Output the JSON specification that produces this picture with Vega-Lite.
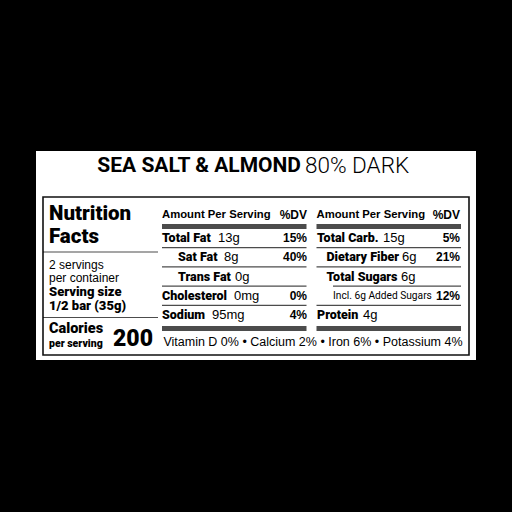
{
  "$schema": "https://vega.github.io/schema/vega-lite/v6.json",
  "width": 440,
  "height": 209,
  "autosize": {"type": "none"},
  "padding": {"left": 36, "top": 151, "right": 36, "bottom": 152},
  "background": "#000000",
  "config": {
    "view": {"fill": "#ffffff", "stroke": null},
    "text": {"font": "Liberation Sans", "color": "#000000"}
  },
  "datasets": {
    "label": [{"panel": "label", "product": "SEA SALT & ALMOND", "cacao": "80% DARK"}],
    "intro": [
      {"panel": "intro", "item": "Nutrition Facts", "text": "Nutrition\nFacts"},
      {"panel": "intro", "item": "servings", "text": "2 servings\nper container"},
      {"panel": "intro", "item": "serving size", "text": "Serving size\n1/2 bar (35g)"},
      {"panel": "intro", "item": "calories", "text": "Calories", "unit": "per serving", "calories": 200}
    ],
    "nutrients": [
      {"panel": "fat", "line": 1, "level": 0, "nutrient": "Total Fat", "amount": "13g", "dv": "15%"},
      {"panel": "fat", "line": 2, "level": 1, "nutrient": "Sat Fat", "amount": "8g", "dv": "40%"},
      {"panel": "fat", "line": 3, "level": 1, "nutrient": "Trans Fat", "amount": "0g", "dv": null},
      {"panel": "fat", "line": 4, "level": 0, "nutrient": "Cholesterol", "amount": "0mg", "dv": "0%"},
      {"panel": "fat", "line": 5, "level": 0, "nutrient": "Sodium", "amount": "95mg", "dv": "4%"},
      {"panel": "carb", "line": 1, "level": 0, "nutrient": "Total Carb.", "amount": "15g", "dv": "5%"},
      {"panel": "carb", "line": 2, "level": 1, "nutrient": "Dietary Fiber", "amount": "6g", "dv": "21%"},
      {"panel": "carb", "line": 3, "level": 1, "nutrient": "Total Sugars", "amount": "6g", "dv": null},
      {"panel": "carb", "line": 4, "level": 2, "nutrient": "Incl. 6g Added Sugars", "amount": null, "dv": "12%"},
      {"panel": "carb", "line": 5, "level": 0, "nutrient": "Protein", "amount": "4g", "dv": null}
    ],
    "micros": [{"panel": "micros", "text": "Vitamin D 0% • Calcium 2% • Iron 6% • Potassium 4%"}]
  },
  "resolve": {"scale": {"x": "independent", "y": "independent"}},
  "layer": [
    {
      "data": {"name": "label"},
      "mark": {"type": "rect", "filled": false, "color": "#111111", "strokeWidth": 1.6},
      "encoding": {
        "x": {"field": "panel", "type": "nominal", "axis": null, "scale": {"type": "band", "range": [7, 433], "padding": 0}},
        "y": {"field": "panel", "type": "nominal", "axis": null, "scale": {"type": "band", "range": [46, 204], "padding": 0}}
      }
    },
    {
      "data": {"name": "label"},
      "mark": {"type": "text", "align": "right", "baseline": "middle", "dx": 45, "font": "Roboto", "fontWeight": 700, "fontSize": 21},
      "encoding": {
        "x": {"field": "panel", "type": "nominal", "axis": null, "scale": {"type": "band", "range": [0, 440], "padding": 0}},
        "y": {"field": "panel", "type": "nominal", "axis": null, "scale": {"type": "band", "range": [0, 30], "padding": 0}},
        "text": {"field": "product"}
      }
    },
    {
      "data": {"name": "label"},
      "mark": {"type": "text", "align": "left", "baseline": "middle", "dx": 49, "font": "Roboto", "fontWeight": 300, "fontSize": 22.5},
      "encoding": {
        "x": {"field": "panel", "type": "nominal", "axis": null, "scale": {"type": "band", "range": [0, 440], "padding": 0}},
        "y": {"field": "panel", "type": "nominal", "axis": null, "scale": {"type": "band", "range": [0, 30], "padding": 0}},
        "text": {"field": "cacao"}
      }
    },
    {
      "data": {"name": "intro"},
      "transform": [{"filter": "datum.item == 'servings' || datum.item == 'calories'"}],
      "mark": {"type": "tick", "orient": "horizontal", "size": 115, "thickness": 1.2, "color": "#000000"},
      "encoding": {
        "x": {"field": "panel", "type": "nominal", "axis": null, "scale": {"type": "band", "range": [7, 122], "padding": 0}},
        "y": {"field": "item", "type": "nominal", "axis": null, "bandPosition": 0,
              "scale": {"type": "band", "domain": ["Nutrition Facts", "servings", "serving size", "calories"], "range": [68.25, 199.25], "padding": 0}}
      }
    },
    {
      "data": {"name": "intro"},
      "transform": [{"filter": "datum.item == 'Nutrition Facts'"}],
      "mark": {"type": "text", "align": "left", "baseline": "alphabetic", "dx": 6, "dy": 0.75, "lineBreak": "\n", "lineHeight": 22.5, "font": "Roboto", "fontWeight": 900, "fontSize": 20.5},
      "encoding": {
        "x": {"field": "panel", "type": "nominal", "axis": null, "bandPosition": 0, "scale": {"type": "band", "range": [7, 122], "padding": 0}},
        "y": {"field": "item", "type": "nominal", "axis": null, "bandPosition": 0,
              "scale": {"type": "band", "domain": ["Nutrition Facts", "servings", "serving size", "calories"], "range": [68.25, 199.25], "padding": 0}},
        "text": {"field": "text"}
      }
    },
    {
      "data": {"name": "intro"},
      "transform": [{"filter": "datum.item == 'servings'"}],
      "mark": {"type": "text", "align": "left", "baseline": "alphabetic", "dx": 6, "dy": 16.5, "lineBreak": "\n", "lineHeight": 13, "fontSize": 12},
      "encoding": {
        "x": {"field": "panel", "type": "nominal", "axis": null, "bandPosition": 0, "scale": {"type": "band", "range": [7, 122], "padding": 0}},
        "y": {"field": "item", "type": "nominal", "axis": null, "bandPosition": 0,
              "scale": {"type": "band", "domain": ["Nutrition Facts", "servings", "serving size", "calories"], "range": [68.25, 199.25], "padding": 0}},
        "text": {"field": "text"}
      }
    },
    {
      "data": {"name": "intro"},
      "transform": [{"filter": "datum.item == 'serving size'"}],
      "mark": {"type": "text", "align": "left", "baseline": "alphabetic", "dx": 6, "dy": 11.5, "lineBreak": "\n", "lineHeight": 14, "font": "Roboto", "fontWeight": 900, "fontSize": 13},
      "encoding": {
        "x": {"field": "panel", "type": "nominal", "axis": null, "bandPosition": 0, "scale": {"type": "band", "range": [7, 122], "padding": 0}},
        "y": {"field": "item", "type": "nominal", "axis": null, "bandPosition": 0,
              "scale": {"type": "band", "domain": ["Nutrition Facts", "servings", "serving size", "calories"], "range": [68.25, 199.25], "padding": 0}},
        "text": {"field": "text"}
      }
    },
    {
      "data": {"name": "intro"},
      "transform": [{"filter": "datum.item == 'calories'"}],
      "mark": {"type": "text", "align": "left", "baseline": "alphabetic", "dx": 6, "dy": 15.5, "font": "Roboto", "fontWeight": 900, "fontSize": 14.5},
      "encoding": {
        "x": {"field": "panel", "type": "nominal", "axis": null, "bandPosition": 0, "scale": {"type": "band", "range": [7, 122], "padding": 0}},
        "y": {"field": "item", "type": "nominal", "axis": null, "bandPosition": 0,
              "scale": {"type": "band", "domain": ["Nutrition Facts", "servings", "serving size", "calories"], "range": [68.25, 199.25], "padding": 0}},
        "text": {"field": "text"}
      }
    },
    {
      "data": {"name": "intro"},
      "transform": [{"filter": "datum.item == 'calories'"}],
      "mark": {"type": "text", "align": "left", "baseline": "alphabetic", "dx": 6, "dy": 29, "font": "Roboto", "fontWeight": 900, "fontSize": 10.5},
      "encoding": {
        "x": {"field": "panel", "type": "nominal", "axis": null, "bandPosition": 0, "scale": {"type": "band", "range": [7, 122], "padding": 0}},
        "y": {"field": "item", "type": "nominal", "axis": null, "bandPosition": 0,
              "scale": {"type": "band", "domain": ["Nutrition Facts", "servings", "serving size", "calories"], "range": [68.25, 199.25], "padding": 0}},
        "text": {"field": "unit"}
      }
    },
    {
      "data": {"name": "intro"},
      "transform": [{"filter": "datum.item == 'calories'"}],
      "mark": {"type": "text", "align": "right", "baseline": "alphabetic", "dx": -5, "dy": 28.5, "font": "Roboto", "fontWeight": 900, "fontSize": 23},
      "encoding": {
        "x": {"field": "panel", "type": "nominal", "axis": null, "bandPosition": 1, "scale": {"type": "band", "range": [7, 122], "padding": 0}},
        "y": {"field": "item", "type": "nominal", "axis": null, "bandPosition": 0,
              "scale": {"type": "band", "domain": ["Nutrition Facts", "servings", "serving size", "calories"], "range": [68.25, 199.25], "padding": 0}},
        "text": {"field": "calories", "type": "quantitative"}
      }
    },
    {
      "data": {"name": "nutrients"},
      "transform": [{"filter": "datum.line == 1"}],
      "mark": {"type": "text", "align": "left", "baseline": "middle", "dy": -23, "fontWeight": "bold", "fontSize": 11.3},
      "encoding": {
        "x": {"field": "panel", "type": "nominal", "axis": null, "bandPosition": 0,
              "scale": {"type": "band", "domain": ["fat", "carb"], "range": [126, 425], "paddingInner": 0.0647, "paddingOuter": 0}},
        "y": {"field": "line", "type": "quantitative", "axis": null, "scale": {"domain": [1, 5], "range": [87, 164], "zero": false, "nice": false}},
        "text": {"value": "Amount Per Serving"}
      }
    },
    {
      "data": {"name": "nutrients"},
      "transform": [{"filter": "datum.line == 1"}],
      "mark": {"type": "text", "align": "right", "baseline": "middle", "dy": -23, "fontWeight": "bold", "fontSize": 12},
      "encoding": {
        "x": {"field": "panel", "type": "nominal", "axis": null,
              "scale": {"type": "point", "domain": ["fat", "carb"], "range": [271, 424], "padding": 0}},
        "y": {"field": "line", "type": "quantitative", "axis": null, "scale": {"domain": [1, 5], "range": [87, 164], "zero": false, "nice": false}},
        "text": {"value": "%DV"}
      }
    },
    {
      "data": {"name": "nutrients"},
      "transform": [{"filter": "datum.line == 1"}],
      "mark": {"type": "tick", "orient": "horizontal", "size": 144.5, "thickness": 5, "yOffset": -11.5, "color": "#000000"},
      "encoding": {
        "x": {"field": "panel", "type": "nominal", "axis": null,
              "scale": {"type": "band", "domain": ["fat", "carb"], "range": [126, 425], "paddingInner": 0.0647, "paddingOuter": 0}},
        "y": {"field": "line", "type": "quantitative", "axis": null, "scale": {"domain": [1, 5], "range": [87, 164], "zero": false, "nice": false}}
      }
    },
    {
      "data": {"name": "nutrients"},
      "transform": [{"filter": "datum.line == 5"}],
      "mark": {"type": "tick", "orient": "horizontal", "size": 144.5, "thickness": 5, "yOffset": 13.5, "color": "#000000"},
      "encoding": {
        "x": {"field": "panel", "type": "nominal", "axis": null,
              "scale": {"type": "band", "domain": ["fat", "carb"], "range": [126, 425], "paddingInner": 0.0647, "paddingOuter": 0}},
        "y": {"field": "line", "type": "quantitative", "axis": null, "scale": {"domain": [1, 5], "range": [87, 164], "zero": false, "nice": false}}
      }
    },
    {
      "data": {"name": "nutrients"},
      "transform": [{"filter": "datum.line > 1 && datum.level < 2"}],
      "mark": {"type": "tick", "orient": "horizontal", "size": 144.5, "thickness": 1.2, "yOffset": -9.6, "color": "#000000"},
      "encoding": {
        "x": {"field": "panel", "type": "nominal", "axis": null,
              "scale": {"type": "band", "domain": ["fat", "carb"], "range": [126, 425], "paddingInner": 0.0647, "paddingOuter": 0}},
        "y": {"field": "line", "type": "quantitative", "axis": null, "scale": {"domain": [1, 5], "range": [87, 164], "zero": false, "nice": false}}
      }
    },
    {
      "data": {"name": "nutrients"},
      "transform": [{"filter": "datum.level == 2"}],
      "mark": {"type": "tick", "orient": "horizontal", "size": 128, "thickness": 1.2, "yOffset": -9.6, "xOffset": 8.25, "color": "#000000"},
      "encoding": {
        "x": {"field": "panel", "type": "nominal", "axis": null,
              "scale": {"type": "band", "domain": ["fat", "carb"], "range": [126, 425], "paddingInner": 0.0647, "paddingOuter": 0}},
        "y": {"field": "line", "type": "quantitative", "axis": null, "scale": {"domain": [1, 5], "range": [87, 164], "zero": false, "nice": false}}
      }
    },
    {
      "data": {"name": "nutrients"},
      "transform": [{"filter": "datum.panel == 'fat' && datum.level < 2"}],
      "mark": {"type": "text", "align": "left", "baseline": "middle", "font": "Roboto", "fontWeight": 900, "fontSize": 12.5},
      "encoding": {
        "x": {"field": "level", "type": "quantitative", "axis": null, "scale": {"domain": [0, 1], "range": [126, 142], "zero": false, "nice": false}},
        "y": {"field": "line", "type": "quantitative", "axis": null, "scale": {"domain": [1, 5], "range": [87, 164], "zero": false, "nice": false}},
        "text": {"field": "nutrient"}
      }
    },
    {
      "data": {"name": "nutrients"},
      "transform": [{"filter": "datum.panel == 'carb' && datum.level < 2"}],
      "mark": {"type": "text", "align": "left", "baseline": "middle", "font": "Roboto", "fontWeight": 900, "fontSize": 12.5},
      "encoding": {
        "x": {"field": "level", "type": "quantitative", "axis": null, "scale": {"domain": [0, 1], "range": [281, 290.5], "zero": false, "nice": false}},
        "y": {"field": "line", "type": "quantitative", "axis": null, "scale": {"domain": [1, 5], "range": [87, 164], "zero": false, "nice": false}},
        "text": {"field": "nutrient"}
      }
    },
    {
      "data": {"name": "nutrients"},
      "transform": [{"filter": "datum.level == 2"}],
      "mark": {"type": "text", "align": "left", "baseline": "middle", "font": "Roboto", "fontSize": 10.2},
      "encoding": {
        "x": {"field": "level", "type": "quantitative", "axis": null, "scale": {"domain": [0, 2], "range": [281, 297], "zero": false, "nice": false}},
        "y": {"field": "line", "type": "quantitative", "axis": null, "scale": {"domain": [1, 5], "range": [87, 164], "zero": false, "nice": false}},
        "text": {"field": "nutrient"}
      }
    },
    {
      "data": {"name": "nutrients"},
      "transform": [{"filter": "datum.panel == 'fat'"}],
      "mark": {"type": "text", "align": "left", "baseline": "middle", "fontSize": 13},
      "encoding": {
        "x": {"field": "line", "type": "quantitative", "axis": null, "scale": {"domain": [1, 2, 3, 4, 5], "range": [182, 188, 199, 198, 176], "zero": false, "nice": false}},
        "y": {"field": "line", "type": "quantitative", "axis": null, "scale": {"domain": [1, 5], "range": [87, 164], "zero": false, "nice": false}},
        "text": {"field": "amount"}
      }
    },
    {
      "data": {"name": "nutrients"},
      "transform": [{"filter": "datum.panel == 'carb' && datum.amount != null"}],
      "mark": {"type": "text", "align": "left", "baseline": "middle", "fontSize": 13},
      "encoding": {
        "x": {"field": "line", "type": "quantitative", "axis": null, "scale": {"domain": [1, 2, 3, 5], "range": [347, 366, 365, 327], "zero": false, "nice": false}},
        "y": {"field": "line", "type": "quantitative", "axis": null, "scale": {"domain": [1, 5], "range": [87, 164], "zero": false, "nice": false}},
        "text": {"field": "amount"}
      }
    },
    {
      "data": {"name": "nutrients"},
      "transform": [{"filter": "datum.dv != null"}],
      "mark": {"type": "text", "align": "right", "baseline": "middle", "fontWeight": "bold", "fontSize": 12},
      "encoding": {
        "x": {"field": "panel", "type": "nominal", "axis": null,
              "scale": {"type": "point", "domain": ["fat", "carb"], "range": [271, 424], "padding": 0}},
        "y": {"field": "line", "type": "quantitative", "axis": null, "scale": {"domain": [1, 5], "range": [87, 164], "zero": false, "nice": false}},
        "text": {"field": "dv"}
      }
    },
    {
      "data": {"name": "micros"},
      "mark": {"type": "text", "align": "center", "baseline": "middle", "fontSize": 12.5},
      "encoding": {
        "x": {"field": "panel", "type": "nominal", "axis": null, "scale": {"type": "band", "range": [130, 424], "padding": 0}},
        "y": {"field": "panel", "type": "nominal", "axis": null, "scale": {"type": "band", "range": [183, 198], "padding": 0}},
        "text": {"field": "text"}
      }
    }
  ]
}
